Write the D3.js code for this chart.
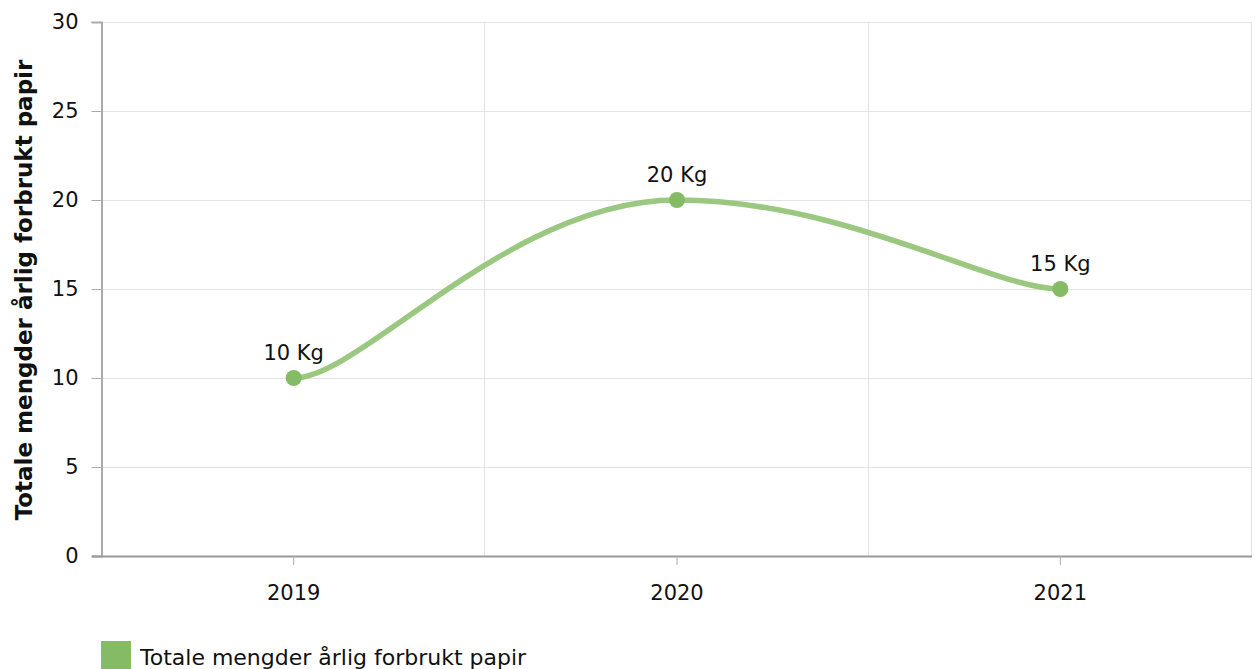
<!DOCTYPE html>
<html>
<head>
<meta charset="utf-8">
<script src="https://cdn.jsdelivr.net/npm/d3@7"></script>
<style>
  body { margin: 0; background: #fff; }
  svg text { font-family: "DejaVu Sans", Verdana, sans-serif; fill: #111; }
</style>
</head>
<body>
<svg id="chart" width="1255" height="669"></svg>
<script>
// data
const years = ["2019", "2020", "2021"];
const values = [10, 20, 15];
const yTicks = [0, 5, 10, 15, 20, 25, 30];
const seriesName = "Totale mengder årlig forbrukt papir";
const yTitle = "Totale mengder årlig forbrukt papir";
const unit = " Kg";

const svg = d3.select("#chart");
const plotL = 102, plotR = 1252, plotT = 22, plotB = 556;

const xScale = d3.scaleBand().domain(years).range([plotL, plotR]);
const yScale = d3.scaleLinear().domain([0, 30]).range([plotB, plotT]);
const cx = (d, i) => xScale(years[i]) + xScale.bandwidth() / 2;

// horizontal gridlines
svg.append("g")
    .selectAll("line")
    .data(yTicks)
    .join("line")
        .attr("x1", plotL)
        .attr("x2", plotR)
        .attr("y1", d => yScale(d) + 0.5)
        .attr("y2", d => yScale(d) + 0.5)
        .attr("stroke", "#e3e3e3");

// vertical gridlines at category boundaries
const bounds = years.slice(1).map(d => xScale(d)).concat([plotR]);
svg.append("g")
    .selectAll("line")
    .data(bounds)
    .join("line")
        .attr("x1", d => Math.round(d) - 0.5)
        .attr("x2", d => Math.round(d) - 0.5)
        .attr("y1", plotT)
        .attr("y2", plotB)
        .attr("stroke", "#e3e3e3");

// y-axis
const yAxis = svg.append("g")
    .attr("transform", `translate(${plotL - 0.5},0)`)
    .call(d3.axisLeft(yScale).tickValues(yTicks).tickSize(10).tickPadding(13));
yAxis.select(".domain").attr("stroke", "#aaa").attr("stroke-width", 2);
yAxis.selectAll(".tick line").attr("stroke", "#aaa");
yAxis.selectAll("text").style("font-size", "21px").attr("fill", "#111");

// x-axis
const xAxis = svg.append("g")
    .attr("transform", `translate(0,${plotB})`)
    .call(d3.axisBottom(xScale).tickSize(9).tickPadding(20).tickSizeOuter(0));
xAxis.select(".domain").attr("stroke", "#999").attr("stroke-width", 2)
    .attr("d", `M${plotL - 10},0.5H${plotR}`);
xAxis.selectAll(".tick line").attr("stroke", "#aaa");
xAxis.selectAll("text").style("font-size", "21px").attr("fill", "#111");

// y title
svg.append("text")
    .attr("transform", `translate(32, ${(plotT + plotB) / 2 + 1}) rotate(-90)`)
    .attr("text-anchor", "middle")
    .style("font-size", "23px")
    .style("font-weight", "bold")
    .text(yTitle);

// spline: horizontal handles, longer at inner points than at the ends
function spline(pts) {
    const p = d3.path();
    p.moveTo(pts[0][0], pts[0][1]);
    for (let i = 1; i < pts.length; i++) {
        const [x0, y0] = pts[i - 1], [x1, y1] = pts[i];
        const h = x1 - x0;
        const a = (i - 1 === 0 ? 0.18 : 0.44) * h;
        const b = (i === pts.length - 1 ? 0.18 : 0.44) * h;
        p.bezierCurveTo(x0 + a, y0, x1 - b, y1, x1, y1);
    }
    return p.toString();
}

const pts = values.map((d, i) => [cx(d, i), yScale(d)]);

svg.append("path")
    .attr("fill", "none")
    .attr("stroke", "#9bc880")
    .attr("stroke-width", 5.5)
    .attr("stroke-linecap", "round")
    .attr("d", spline(pts));

// points
svg.append("g")
    .selectAll("circle")
    .data(values)
    .join("circle")
        .attr("cx", cx)
        .attr("cy", d => yScale(d))
        .attr("r", 8)
        .attr("fill", "#85bb65");

// labels
svg.append("g")
    .selectAll("text")
    .data(values)
    .join("text")
        .attr("x", cx)
        .attr("y", d => yScale(d) - 18)
        .attr("text-anchor", "middle")
        .style("font-size", "21px")
        .text(d => d + unit);

// legend
svg.append("rect")
    .attr("x", 101)
    .attr("y", 641)
    .attr("width", 30)
    .attr("height", 30)
    .attr("fill", "#85bb65");
svg.append("text")
    .attr("x", 140)
    .attr("y", 665)
    .style("font-size", "22px")
    .text(seriesName);
</script>
</body>
</html>
